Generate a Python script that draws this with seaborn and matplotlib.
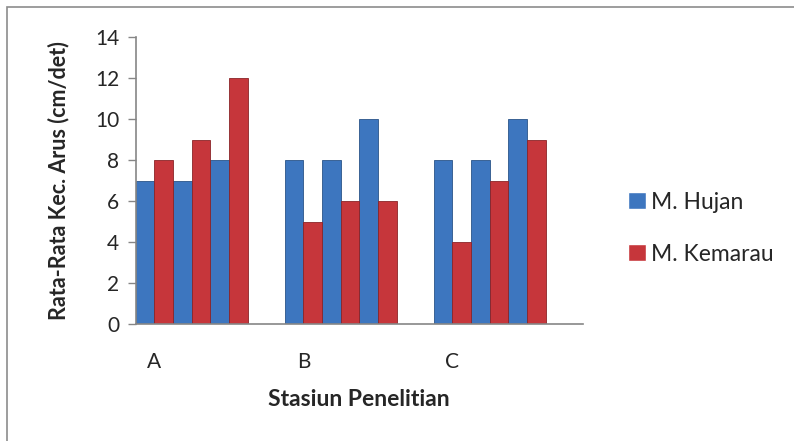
import pandas as pd
import matplotlib
matplotlib.use("Agg")
import matplotlib.pyplot as plt
import seaborn as sns
from matplotlib.patches import Rectangle

# ==================================================
#* Dados
# ==================================================
stasiun = ["A", "B", "C"]
musim = ["M. Hujan", "M. Kemarau"]
hujan = [[7, 7, 8], [8, 8, 10], [8, 8, 10]]
kemarau = [[8, 9, 12], [5, 6, 6], [4, 7, 9]]

cores = {"M. Hujan": "#3D76BF", "M. Kemarau": "#C6363B"}
bordas = {"M. Hujan": "#2A5488", "M. Kemarau": "#8A2428"}

# cada estação tem 3 pares de barras + 1 posição vazia
linhas = []
ordem = []
for s, h, k in zip(stasiun, hujan, kemarau):
    for i in range(4):
        chave = f"{s}{i}"
        ordem.append(chave)
        if i < 3:
            linhas.append({"slot": chave, "musim": musim[0], "valor": h[i]})
            linhas.append({"slot": chave, "musim": musim[1], "valor": k[i]})
df = pd.DataFrame(linhas)

# ==================================================
#* Gráfico
# ==================================================
sns.set_theme(style="white")
plt.rcParams["font.family"] = ["Lato", "DejaVu Sans"]

fig = plt.figure(figsize=(7.94, 4.41), dpi=100)
ax = fig.add_axes([0.171, 0.265, 0.563, 0.651])

sns.barplot(
    data=df, x="slot", y="valor", hue="musim", order=ordem,
    hue_order=musim, palette=cores, width=1.0, dodge=True,
    saturation=1, ax=ax, legend=True
)
for cont, m in zip(ax.containers, musim):
    for b in cont:
        b.set_edgecolor(bordas[m])
        b.set_linewidth(0.6)

ax.set_xlim(-0.5, len(ordem) - 0.5)
ax.set_ylim(0, 14)
ax.set_yticks(range(0, 15, 2))
ax.set_xticks(range(len(ordem)))
ax.set_xticklabels([o[0] if o.endswith("0") else "" for o in ordem])

ax.tick_params(axis="y", direction="out", length=6, width=1, color="#868686",
               labelsize=15, pad=6, left=True)
ax.tick_params(axis="x", length=0, labelsize=15, pad=20)

for lado in ["top", "right"]:
    ax.spines[lado].set_visible(False)
for lado in ["left", "bottom"]:
    ax.spines[lado].set_color("#868686")
    ax.spines[lado].set_linewidth(1.2)

ax.set_xlabel("Stasiun Penelitian", fontsize=16.5, fontweight="bold", labelpad=12)
ax.set_ylabel("Rata-Rata Kec. Arus (cm/det)", fontsize=15.5, fontweight="bold", labelpad=18)

leg = ax.legend(
    loc="center left", bbox_to_anchor=(1.056, 0.334), frameon=False,
    fontsize=16.5, handlelength=0.75, handleheight=0.75, labelspacing=1.35,
    handletextpad=0.25
)

# moldura externa
fig.patches.append(Rectangle((7 / 794, -0.1), 1.2, 1.1 - 7 / 441,
                             transform=fig.transFigure, fill=False,
                             edgecolor="#8C8C8C", linewidth=1.2))

fig.savefig("out.png", dpi=100)
